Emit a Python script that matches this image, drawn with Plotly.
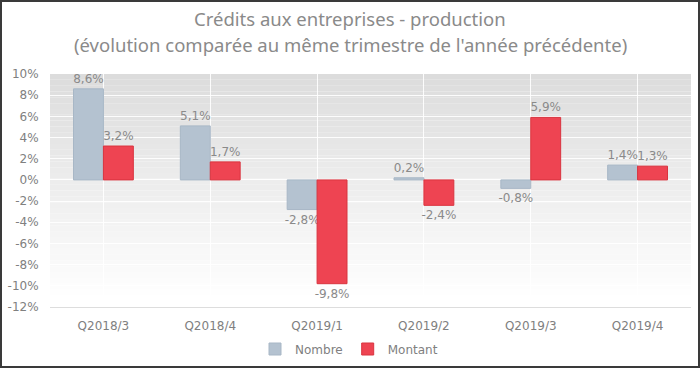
import plotly.graph_objects as go

categories = ["Q2018/3", "Q2018/4", "Q2019/1", "Q2019/2", "Q2019/3", "Q2019/4"]
nombre = [8.6, 5.1, -2.8, 0.2, -0.8, 1.4]
montant = [3.2, 1.7, -9.8, -2.4, 5.9, 1.3]
tick_vals = [10, 8, 6, 4, 2, 0, -2, -4, -6, -8, -10, -12]
tick_text = ["10%", "8%", "6%", "4%", "2%", "0%", "-2%", "-4%", "-6%", "-8%", "-10%", "-12%"]
title_lines = ["Crédits aux entreprises - production",
               "(évolution comparée au même trimestre de l'année précédente)"]

W, H = 700, 368
ml, mr, mt, mb = 50, 9, 74, 61
pw, ph = W - ml - mr, H - mt - mb
FONT = "DejaVu Sans"

fig = go.Figure()
fig.add_trace(go.Bar(
    name="Nombre", x=categories, y=nombre,
    marker=dict(color="#b4c2d0", line=dict(color="#a8b7c6", width=1)),
    texttemplate="%{y:.1f}%", textposition="outside", constraintext="none",
    textfont=dict(color="#8a8a8a", size=12, family=FONT), cliponaxis=False,
))
fig.add_trace(go.Bar(
    name="Montant", x=categories, y=montant,
    marker=dict(color="#ee4452", line=dict(color="#d9343f", width=1)),
    texttemplate="%{y:.1f}%", textposition="outside", constraintext="none",
    textfont=dict(color="#8a8a8a", size=12, family=FONT), cliponaxis=False,
))

# gradient background bands
n = 40
shapes = []
for i in range(n):
    t = i / n
    v = int(round(220 + (255 - 220) * min(1.0, t * 1.05)))
    col = f"rgb({v},{v},{v})"
    shapes.append(dict(type="rect", xref="paper", yref="y domain",
                       x0=0, x1=1, y0=1 - (i + 1) / n, y1=1 - i / n,
                       fillcolor=col, line=dict(width=0), layer="below"))
# outer dark border
shapes.append(dict(type="rect", xref="paper", yref="paper",
                   x0=(1 - ml) / pw, x1=(W - 1 - ml) / pw,
                   y0=-(H - 1 - (H - mb)) / ph, y1=((H - mb) - 1) / ph,
                   line=dict(color="#3a3a3a", width=2), fillcolor="rgba(0,0,0,0)"))

annotations = []
for text, py in zip(title_lines, [18, 45]):
    annotations.append(dict(text=text, xref="paper", yref="paper",
                            x=(350 - ml) / pw, y=((H - mb) - py) / ph,
                            xanchor="center", yanchor="middle", showarrow=False,
                            font=dict(size=18.5, color="#8a8a8a", family="Noto Sans")))

fig.update_layout(
    width=W, height=H, autosize=False,
    margin=dict(l=ml, r=mr, t=mt, b=mb, autoexpand=False),
    paper_bgcolor="white", plot_bgcolor="rgba(0,0,0,0)",
    separators=",.",
    font=dict(family=FONT, color="#808080", size=12),
    barmode="group", bargap=0.44, bargroupgap=0,
    showlegend=True,
    legend=dict(orientation="h", x=(349 - ml) / pw, xanchor="center",
                y=((H - mb) - 349) / ph, yanchor="middle",
                font=dict(size=12, color="#808080", family=FONT), traceorder="normal",
                itemwidth=30, bgcolor="rgba(0,0,0,0)"),
    shapes=shapes,
    annotations=annotations,
    xaxis=dict(showgrid=True, gridcolor="rgba(255,255,255,0.9)", gridwidth=1,
               showline=True, linecolor="#dddddd", ticks="outside", ticklen=8,
               tickcolor="rgba(0,0,0,0)",
               tickfont=dict(size=12, color="#808080", family=FONT)),
    yaxis=dict(range=[-12, 10], tickvals=tick_vals, ticktext=tick_text,
               showgrid=True, gridcolor="rgba(255,255,255,0.9)", gridwidth=1,
               ticks="outside", ticklen=8, tickcolor="rgba(0,0,0,0)",
               zeroline=False, tickfont=dict(size=12, color="#808080", family=FONT)),
)

fig.write_html("out.html", config={"displayModeBar": False},
               post_script="document.body.style.margin='0';document.body.style.overflow='hidden';")
